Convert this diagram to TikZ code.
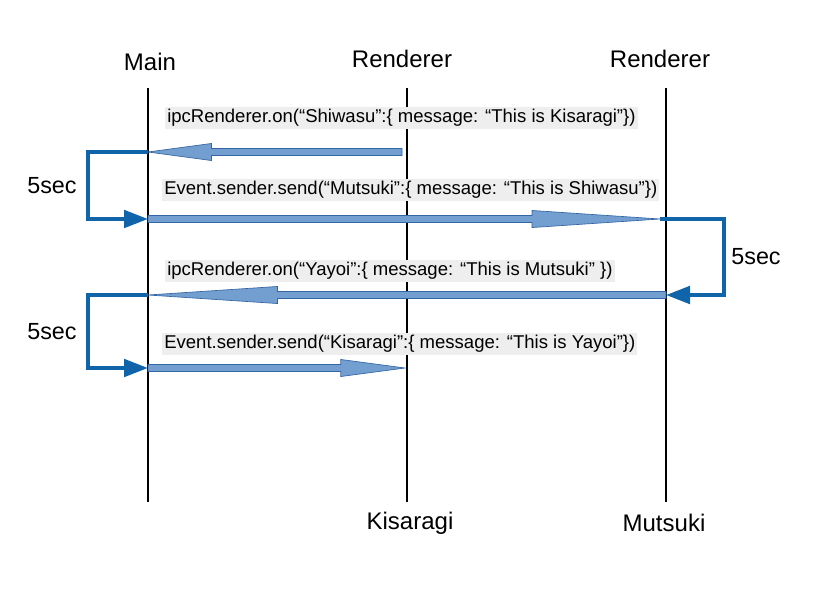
\documentclass[tikz,border=0pt]{standalone}
\usepackage{fontspec}
\setmainfont{Liberation Sans}
\usetikzlibrary{arrows.meta,calc}
\definecolor{MsgFill}{HTML}{729FCF}
\definecolor{MsgLine}{HTML}{3465A4}
\definecolor{WaitClr}{HTML}{0F64AA}
\definecolor{LabelBg}{HTML}{EEEEEE}

\tikzset{
  lane/.style={font=\fontsize{18}{21}\selectfont},
  lifeline/.style={line width=2.2pt,black},
  msg/.style={fill=MsgFill,draw=MsgLine,line width=0.5pt},
  msglabel/.style={anchor=west,fill=LabelBg,inner sep=1.5pt,font=\fontsize{13.9}{16}\selectfont},
  wait/.style={draw=WaitClr,line width=3pt,-{Triangle[length=18pt,width=13pt]}},
  waitlabel/.style={font=\fontsize{17.5}{21}\selectfont}
}

% block arrow between two points on the lifelines
\newcommand{\msgArrow}[2]{%
  \filldraw[msg] let \p1=(#1), \p2=(#2), \n1={0.25*(\x2-\x1)} in
    (\x1,\y1+2.6pt) -- (\x2-\n1,\y1+2.6pt) -- (\x2-\n1,\y1+6.4pt) -- (\x2,\y2)
    -- (\x2-\n1,\y1-6.4pt) -- (\x2-\n1,\y1-2.6pt) -- (\x1,\y1-2.6pt) -- cycle;}

\begin{document}
\begin{tikzpicture}[x=0.75pt,y=-0.75pt]
\useasboundingbox (0,0) rectangle (833,593);

\node[lane] (main) at (150,62) {Main};
\node[lane] (rendA) at (402,59) {Renderer};
\node[lane] (rendB) at (660,59) {Renderer};
\node[lane] (kisaragi) at (410,523) {Kisaragi};
\node[lane] (mutsuki) at (664,523) {Mutsuki};

\coordinate (mainT) at (148,88);  \coordinate (mainB) at (148,502);
\coordinate (rendAT) at (407,88); \coordinate (rendAB) at (407,502);
\coordinate (rendBT) at (666,88); \coordinate (rendBB) at (666,502);

\draw[lifeline] (mainT) -- (mainB);
\draw[lifeline] (rendAT) -- (rendAB);
\draw[lifeline] (rendBT) -- (rendBB);

% message points
\coordinate (a1) at (402,152); \coordinate (b1) at (148,152);
\coordinate (a2) at (148,219); \coordinate (b2) at (660,219);
\coordinate (a3) at (666,295); \coordinate (b3) at (148,295);
\coordinate (a4) at (148,368); \coordinate (b4) at (405,368);

\node[msglabel] (msgA) at (165,118) {ipcRenderer.on(“Shiwasu”:\{ message: “This is Kisaragi”\})};
\node[msglabel] (msgB) at (162,190) {Event.sender.send(“Mutsuki”:\{ message: “This is Shiwasu”\})};
\node[msglabel] (msgC) at (165,271) {ipcRenderer.on(“Yayoi”:\{ message: “This is Mutsuki” \})};
\node[msglabel] (msgD) at (162,344) {Event.sender.send(“Kisaragi”:\{ message: “This is Yayoi”\})};

\msgArrow{a1}{b1}
\msgArrow{a2}{b2}
\msgArrow{a3}{b3}
\msgArrow{a4}{b4}

% waits
\draw[wait] (b1) -| (88,186) |- (a2);
\draw[wait] (b2) -| (724,257) |- (a3);
\draw[wait] (b3) -| (88,332) |- (a4);

\node[waitlabel] (waitA) at (52,186) {5sec};
\node[waitlabel] (waitB) at (756,257) {5sec};
\node[waitlabel] (waitC) at (52,332) {5sec};

\end{tikzpicture}
\end{document}
